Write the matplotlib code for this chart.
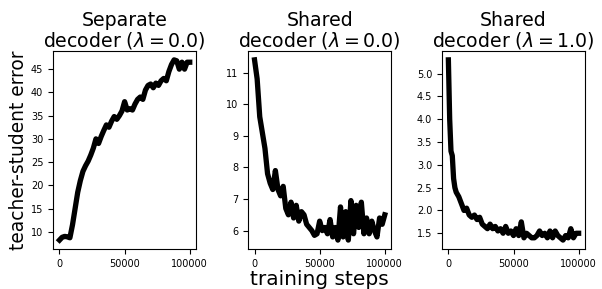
import matplotlib
matplotlib.use('Agg')
import matplotlib.pyplot as plt
import numpy as np

######### DADOS #########

# passos de treino (eixo x) para os dois primeiros painéis
steps = np.arange(0, 100001, 2000)

# painel 1: decoder separado, lambda = 0
err_separate = [8.2, 8.8, 9.0, 8.9, 8.7, 11.5, 15.0, 18.5, 21.0, 23.0,
                24.2, 25.2, 26.5, 28.0, 30.0, 29.0, 30.5, 31.8, 33.0, 32.5,
                33.8, 34.8, 34.2, 35.0, 36.0, 38.0, 36.2, 36.5, 36.2, 37.5,
                38.5, 39.0, 38.5, 40.5, 41.5, 41.8, 41.0, 42.0, 41.5, 42.5,
                43.0, 42.5, 44.5, 46.0, 47.0, 46.8, 45.0, 46.5, 45.0, 46.5,
                46.5]

# painel 2: decoder compartilhado, lambda = 0
err_shared0 = [11.4, 10.8, 9.6, 9.1, 8.6, 7.8, 7.5, 7.3, 7.9, 7.3,
               7.1, 7.4, 6.7, 6.5, 6.9, 6.4, 6.8, 6.3, 6.6, 6.5,
               6.2, 6.1, 6.0, 5.85, 5.9, 6.3, 6.0, 6.1, 5.9, 6.35,
               5.8, 6.1, 5.7, 6.75, 5.8, 6.6, 5.7, 6.95, 5.9, 6.8,
               6.1, 6.9, 5.9, 6.4, 5.9, 6.3, 6.0, 5.8, 6.4, 6.2,
               6.5]

# painel 3: decoder compartilhado, lambda = 1 (mais pontos no começo)
steps_shared1 = [0, 1000, 2000, 3000, 4000, 5000, 6000, 8000, 10000, 12000,
                 14000, 16000, 18000, 20000, 22000, 24000, 26000, 28000, 30000, 32000,
                 34000, 36000, 38000, 40000, 42000, 44000, 46000, 48000, 50000, 52000,
                 54000, 56000, 58000, 60000, 62000, 64000, 66000, 68000, 70000, 72000,
                 74000, 76000, 78000, 80000, 82000, 84000, 86000, 88000, 90000, 92000,
                 94000, 96000, 98000, 100000]
err_shared1 = [5.3, 4.0, 3.3, 3.2, 2.7, 2.5, 2.4, 2.3, 2.15, 2.0,
               2.05, 1.9, 1.85, 1.9, 1.8, 1.85, 1.7, 1.65, 1.6, 1.7,
               1.6, 1.65, 1.55, 1.6, 1.5, 1.65, 1.5, 1.55, 1.45, 1.6,
               1.45, 1.75, 1.4, 1.5, 1.45, 1.4, 1.4, 1.45, 1.55, 1.45,
               1.5, 1.4, 1.55, 1.4, 1.55, 1.45, 1.4, 1.35, 1.45, 1.4,
               1.6, 1.4, 1.5, 1.5]

titles = ['Separate\ndecoder ($\\lambda = 0.0$)',
          'Shared\ndecoder ($\\lambda = 0.0$)',
          'Shared\ndecoder ($\\lambda = 1.0$)']

######### FIGURA #########

fig = plt.figure(figsize=(6.02, 2.89), dpi=100)
lefts = [0.088, 0.412, 0.734]
axes = [fig.add_axes([l, 0.138, 0.238, 0.686]) for l in lefts]

series = [(steps, err_separate), (steps, err_shared0), (steps_shared1, err_shared1)]

for ax, (x, y), t in zip(axes, series, titles):
    ax.plot(x, y, color='black', linewidth=3.8)
    ax.set_title(t, fontsize=13.6, linespacing=1.0, pad=3)
    ax.set_xticks([0, 50000, 100000])
    ax.tick_params(labelsize=7)

axes[0].set_yticks([10, 15, 20, 25, 30, 35, 40, 45])
axes[1].set_yticks([6, 7, 8, 9, 10, 11])
axes[2].set_yticks([1.5, 2.0, 2.5, 3.0, 3.5, 4.0, 4.5, 5.0])

axes[0].set_ylabel('teacher-student error', fontsize=13.4, labelpad=2)
axes[1].set_xlabel('training steps', fontsize=14.5, labelpad=1)

plt.savefig('out.png', dpi=100)
